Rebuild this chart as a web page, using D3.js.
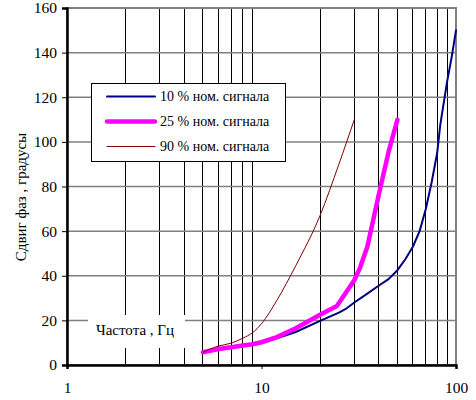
<!DOCTYPE html>
<html><head><meta charset="utf-8">
<script src="https://cdn.jsdelivr.net/npm/d3@7"></script>
<style>body{margin:0;background:#fff;} svg{display:block;} svg text{font-family:"Times New Roman",Tinos,"Liberation Serif","Noto Serif","DejaVu Serif",FreeSerif,serif;}</style>
</head><body><svg id="c" width="476" height="400"></svg>
<script>
const freq10 = [5,6,7,8,9,10,12,15,20,25,27,30,35,40,45,50,55,60,65,70,75,80,83,90,95,100];
const val10  = [5.7,7,7.8,8.5,9,9.8,12,14.8,19.8,23.5,25,28,32,35.5,38.5,42.5,47.5,53,60,70,82,95,107.6,127,138,150];
const freq25 = [5,6,7,8,9,10,12,15,20,24.4,30,32,35,40,45,50];
const val25  = [5.7,7.2,8,8.7,9.3,10.2,12.5,16.5,22.5,26.4,38,43.3,53,76,95.5,110];
const freq90 = [5,6,7,8,9,10,12,15,20,25,30];
const val90  = [5.7,8.5,9.8,12,14.5,18.5,29,44.5,67,90,110];
const seriesNames = ["10 % ном. сигнала","25 % ном. сигнала","90 % ном. сигнала"];
const yTicks = [0,20,40,60,80,100,120,140,160];
const xLabels = [1,10,100];
const xMinor = [2,3,4,5,6,7,8,9,20,30,40,50,60,70,80,90];
const xTitle = "Частота , Гц";
const yTitle = "Сдвиг фаз , градусы";

const svg = d3.select("#c");
const L=67,R=456,T=8,B=365;
const x = d3.scaleLog().domain([1,100]).range([L,R]);
const y = d3.scaleLinear().domain([0,160]).range([B,T]);

// grid
svg.append("g").selectAll("line").data(xMinor).join("line")
  .attr("x1",d=>x(d)).attr("x2",d=>x(d)).attr("y1",T).attr("y2",B)
  .attr("stroke","#000").attr("stroke-width",1).attr("shape-rendering","crispEdges");
svg.append("g").selectAll("line").data(yTicks.slice(1,-1)).join("line")
  .attr("x1",L).attr("x2",R).attr("y1",d=>y(d)).attr("y2",d=>y(d))
  .attr("stroke","#808080").attr("stroke-width",1.5);
svg.append("rect").attr("x",L).attr("y",T).attr("width",R-L).attr("height",B-T)
  .attr("fill","none").attr("stroke","#808080").attr("stroke-width",2);

// x title with white background inside plot
svg.append("rect").attr("x",88).attr("y",315).attr("width",97).attr("height",33).attr("fill","#fff");
svg.append("text").attr("x",135).attr("y",335).attr("text-anchor","middle")
  .attr("font-size",15).text(xTitle);

// axes
const yAxis = d3.axisLeft(y).tickValues(yTicks).tickSize(5).tickPadding(5);
const gy = svg.append("g").attr("transform",`translate(${L},0)`).call(yAxis);
gy.attr("font-family",null);
gy.select(".domain").attr("stroke","#000").attr("stroke-width",2.5);
gy.selectAll(".tick line").attr("stroke","#000").attr("stroke-width",1);
gy.selectAll("text").attr("font-size",15.5).attr("fill","#000");

const xAxis = d3.axisBottom(x).tickValues(xLabels).tickFormat(d3.format("d")).tickSize(4).tickPadding(13);
const gx = svg.append("g").attr("transform",`translate(0,${B})`).call(xAxis);
gx.attr("font-family",null);
gx.select(".domain").attr("stroke","#000").attr("stroke-width",2.5);
gx.selectAll(".tick line").attr("stroke","#000");
gx.selectAll("text").attr("font-size",15.5).attr("fill","#000");

svg.append("text").attr("transform",`translate(26,197) rotate(-90)`).attr("text-anchor","middle")
  .attr("font-size",15).text(yTitle);

// series
const series = [
  {f:freq10,v:val10,color:"#000080",w:2,curve:d3.curveLinear},
  {f:freq25,v:val25,color:"#ff00ff",w:4.5,curve:d3.curveLinear},
  {f:freq90,v:val90,color:"#800000",w:1,curve:d3.curveMonotoneX}
];
series.forEach(s=>{
  const line = d3.line().x(d=>x(d[0])).y(d=>y(d[1])).curve(s.curve);
  svg.append("path").datum(d3.zip(s.f,s.v)).attr("d",line)
    .attr("fill","none").attr("stroke",s.color).attr("stroke-width",s.w)
    .attr("stroke-linejoin","round").attr("stroke-linecap","round");
});

// legend
const lg = svg.append("g");
lg.append("rect").attr("x",91.5).attr("y",83.5).attr("width",194).attr("height",78)
  .attr("fill","#fff").attr("stroke","#000").attr("stroke-width",1);
series.forEach((s,i)=>{
  const yy = 96.5 + i*25;
  lg.append("line").attr("x1",107).attr("x2",155).attr("y1",yy).attr("y2",yy)
    .attr("stroke",s.color).attr("stroke-width",s.w).attr("stroke-linecap","round");
  lg.append("text").attr("x",160).attr("y",yy+4.5).attr("font-size",14)
    .text(seriesNames[i]);
});
</script></body></html>
